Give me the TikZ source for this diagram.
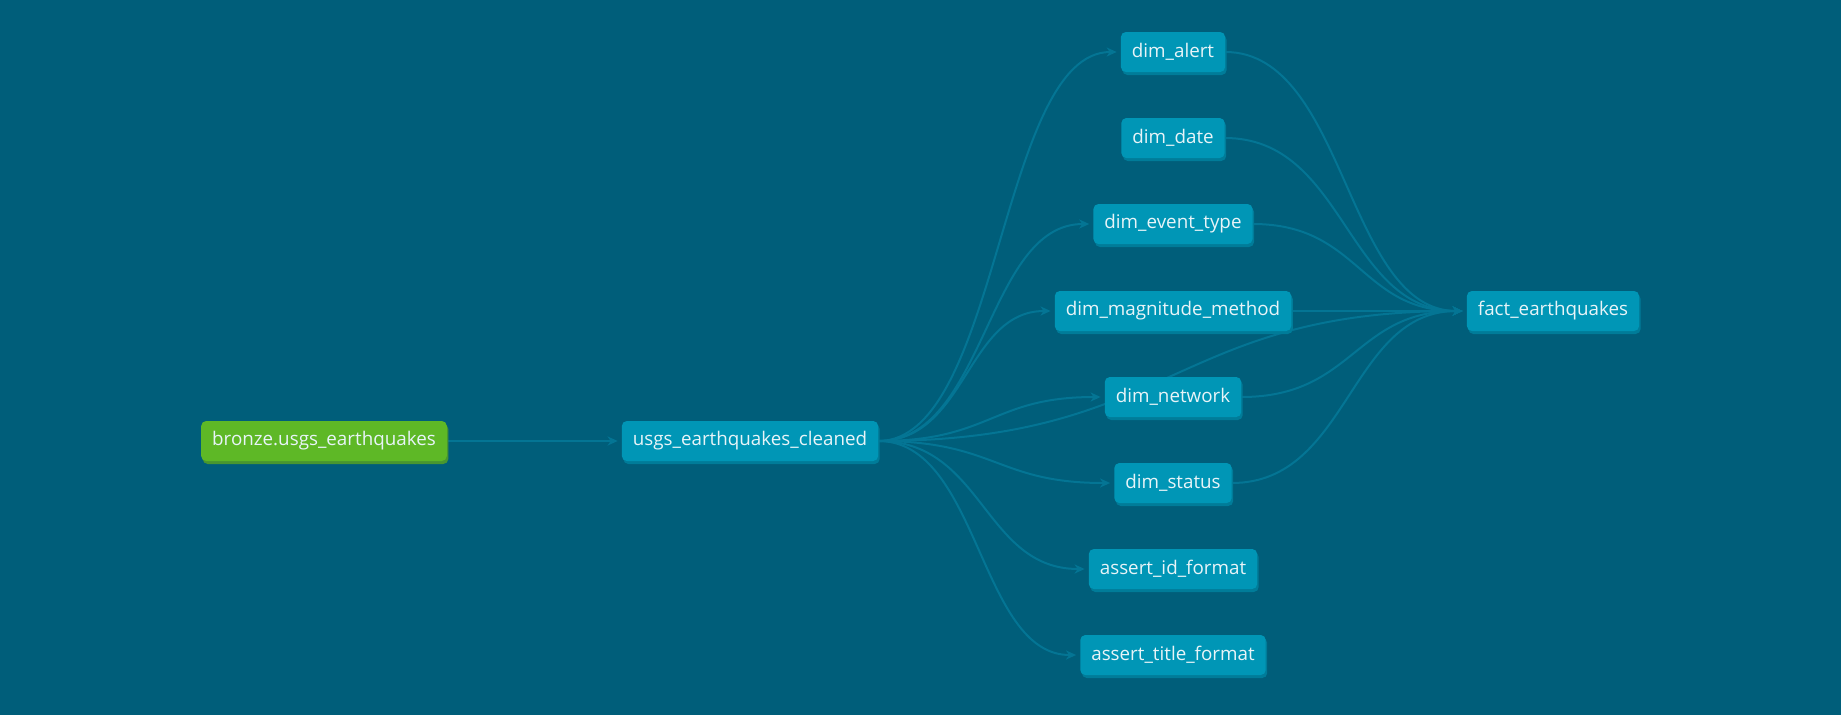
\documentclass[tikz,border=0pt]{standalone}
\usepackage{fontspec}
\setmainfont{Open Sans}
\usetikzlibrary{arrows.meta,shadows,calc}
\definecolor{bg}{RGB}{0,94,122}
\definecolor{nodefill}{RGB}{0,150,182}
\definecolor{nodeshadow}{RGB}{0,124,153}
\definecolor{srcfill}{RGB}{94,184,38}
\definecolor{srcshadow}{RGB}{72,150,48}
\definecolor{edgecol}{RGB}{4,117,148}
\definecolor{txt}{RGB}{232,244,248}
\pgfdeclarelayer{bglayer}
\pgfdeclarelayer{edgelayer}
\pgfsetlayers{bglayer,edgelayer,main}
\newcommand\lineage[3][edge]{%
  \draw[#1] let \p1=(#2.east), \p2=(#3.west), \p3=($(\p1)!0.5!(\p2)$) in
    (\p1) .. controls (\x3,\y1) and (\x3,\y2) .. (\p2);}
\begin{document}
\begin{tikzpicture}[x=1pt,y=-1pt,
  basebox/.style={rectangle, rounded corners=5pt, text=txt, minimum height=40pt,
    inner xsep=11pt, inner ysep=0pt, font=\fontsize{18.8}{22}\selectfont},
  model/.style={basebox, fill=nodefill,
    general shadow={fill=nodeshadow, shadow xshift=1.5pt, shadow yshift=-3pt}},
  source/.style={basebox, fill=srcfill,
    general shadow={fill=srcshadow, shadow xshift=1.5pt, shadow yshift=-3pt}},
  edge/.style={draw=edgecol, line width=2pt,
    -{Stealth[length=10pt,width=9pt,inset=3pt]}, shorten >=4pt}]
\useasboundingbox (0,0) rectangle (1841,715);
\begin{pgfonlayer}{bglayer}
\fill[bg] (0,0) rectangle (1841,715);
\end{pgfonlayer}

\node[source] (bronze) at (324,441) {bronze.usgs\_earthquakes};
\node[model] (cleaned) at (750,441) {usgs\_earthquakes\_cleaned};
\node[model] (alert) at (1173,52) {dim\_alert};
\node[model] (date) at (1173,138) {dim\_date};
\node[model] (etype) at (1173,224) {dim\_event\_type};
\node[model] (magm) at (1173,311) {dim\_magnitude\_method};
\node[model] (network) at (1173,397) {dim\_network};
\node[model] (status) at (1173,483) {dim\_status};
\node[model] (aid) at (1173,569) {assert\_id\_format};
\node[model] (atitle) at (1173,655) {assert\_title\_format};
\node[model] (fact) at (1553,311) {fact\_earthquakes};

\begin{pgfonlayer}{edgelayer}
\draw[edge] (bronze) -- (cleaned);
\lineage{cleaned}{alert}
\lineage{cleaned}{etype}
\lineage{cleaned}{magm}
\lineage{cleaned}{network}
\lineage{cleaned}{status}
\lineage{cleaned}{aid}
\lineage{cleaned}{atitle}
\lineage{cleaned}{fact}
\lineage{alert}{fact}
\lineage{date}{fact}
\lineage{etype}{fact}
\lineage{magm}{fact}
\lineage{network}{fact}
\lineage{status}{fact}
\end{pgfonlayer}
\end{tikzpicture}
\end{document}
